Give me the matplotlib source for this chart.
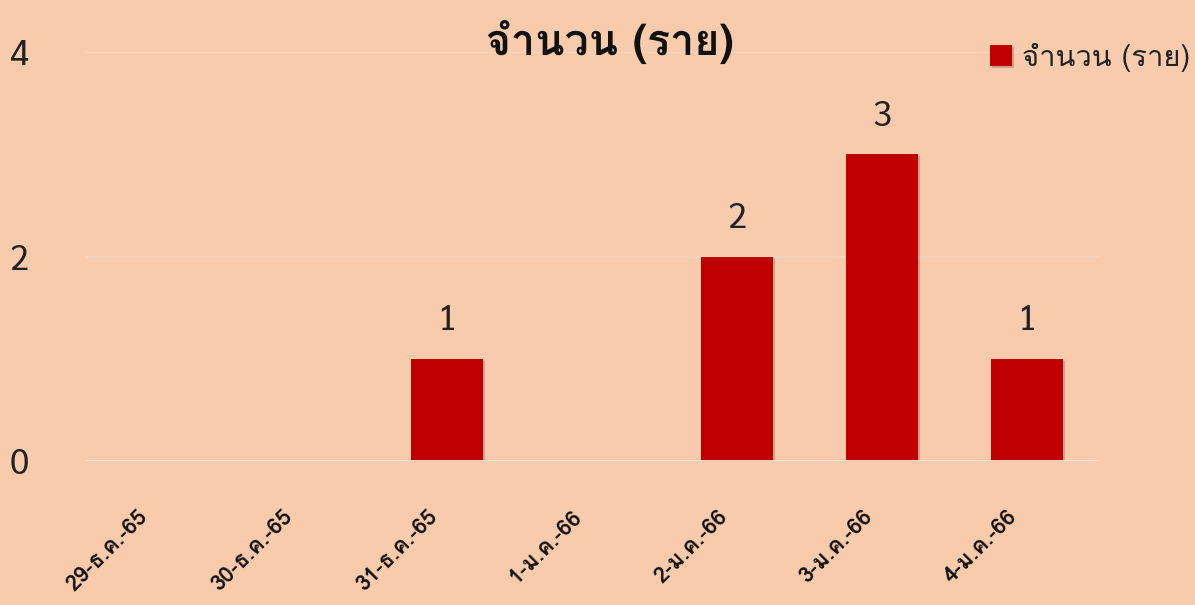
import matplotlib
matplotlib.use("Agg")
import matplotlib.pyplot as plt
import matplotlib.patheffects as pe
import matplotlib.transforms as mtransforms

categories = ["29-ธ.ค.-65", "30-ธ.ค.-65", "31-ธ.ค.-65", "1-ม.ค.-66", "2-ม.ค.-66", "3-ม.ค.-66", "4-ม.ค.-66"]
values = [0, 0, 1, 0, 2, 3, 1]
yticks = [0, 2, 4]
series_name = "จำนวน (ราย)"
title = "จำนวน (ราย)"

BG = "#F8CBAD"
BAR = "#C00000"
THAI = ["Loma", "Noto Sans Thai Looped", "DejaVu Sans"]
NUM = ["Sarabun", "Noto Sans Thai Looped", "DejaVu Sans"]

plt.rcParams['font.family'] = THAI

W, H = 1195, 605
fig = plt.figure(figsize=(W / 100, H / 100), dpi=100, facecolor=BG)
ax = fig.add_axes([84.5 / W, (H - 461) / H, (1099.5 - 84.5) / W, (461 - 52) / H])
ax.set_facecolor(BG)

x = list(range(len(categories)))
bars = ax.bar(x, values, width=0.5, color=BAR, zorder=3, label=series_name,
              path_effects=[pe.SimplePatchShadow(offset=(1.5, -1.5), shadow_rgbFace="#7a5a4a", alpha=0.35), pe.Normal()])

for xi, v in zip(x, values):
    if v > 0:
        ax.text(xi, v + 0.2, str(v), ha='center', va='bottom', fontsize=25,
                family=NUM, color="#222222")

ax.set_xlim(-0.5, len(categories) - 0.5)
ax.set_ylim(0, 4)
ax.set_yticks(yticks)
ax.set_yticklabels([str(t) for t in yticks], fontsize=25, family=NUM, color="#222222")
ax.tick_params(axis='y', length=0, pad=40)
ax.set_xticks(x)
ax.set_xticklabels(categories, rotation=45, ha='right', va='center', rotation_mode='anchor',
                   fontsize=16, fontweight='bold', color="#111111")
ax.tick_params(axis='x', length=0, pad=0)
off = mtransforms.ScaledTranslation(-13 / 100, -52 / 100, fig.dpi_scale_trans)
for lbl in ax.get_xticklabels():
    lbl.set_transform(lbl.get_transform() + off)

for t in yticks[1:]:
    ax.axhline(t, color="#F5D5C0", lw=1.2, zorder=1)
ax.axhline(0, color="#F3E4DA", lw=2, zorder=4)
for s in ax.spines.values():
    s.set_visible(False)

fig.text(610 / W, 1 - 42 / H, title, ha='center', va='center', fontsize=31, fontweight='bold',
         color="#111111",
         path_effects=[pe.SimpleLineShadow(offset=(1.5, -1.5), shadow_color="#555555", alpha=0.3), pe.Normal()])

leg = fig.legend(handles=[bars], labels=[series_name], loc='center left',
                 bbox_to_anchor=(990 / W, 1 - 57 / H), frameon=False, fontsize=21,
                 handlelength=0.75, handleheight=0.75, handletextpad=0.35, borderpad=0,
                 borderaxespad=0)
for t in leg.get_texts():
    t.set_color("#222222")

fig.savefig("out.png", dpi=100, facecolor=BG)
